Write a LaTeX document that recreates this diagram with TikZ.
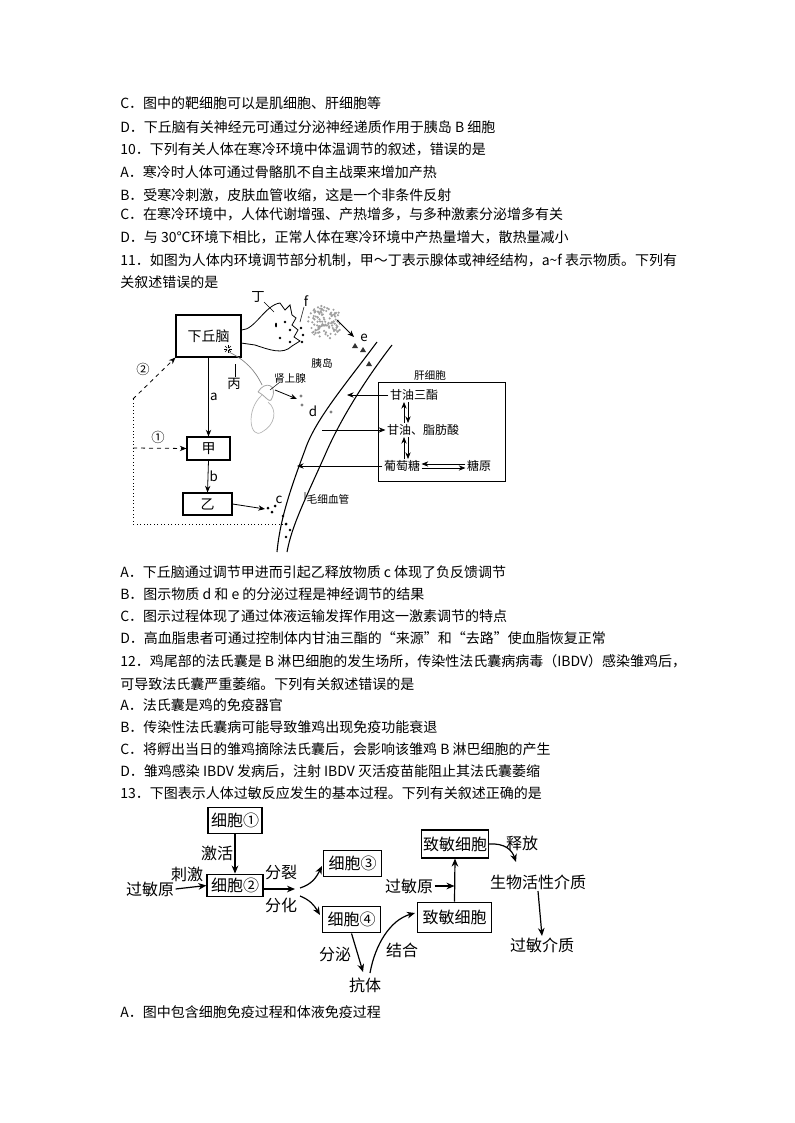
\documentclass[tikz,border=0pt]{standalone}
\usepackage{fontspec}
\setmainfont{Noto Sans CJK SC}
\usetikzlibrary{arrows.meta}
\begin{document}
\begin{tikzpicture}[x=0.75pt,y=-0.75pt,
  txt/.style={anchor=west,inner sep=0,font=\fontsize{10.5}{12}\selectfont},
  lbl/.style={inner sep=1pt,font=\fontsize{10}{12}\selectfont},
  big/.style={inner sep=1pt,font=\fontsize{12}{14}\selectfont},
  bx/.style={draw,line width=0.8pt,inner sep=0},
  arr/.style={-{Stealth[length=5pt,width=4pt]},line width=0.6pt},
  arrb/.style={-{Stealth[length=6pt,width=5pt]},line width=0.9pt}]
\useasboundingbox (0,0) rectangle (794,1123);
\fill[white] (0,0) rectangle (794,1123);
% text lines
\foreach \y/\t in {103/{C．图中的靶细胞可以是肌细胞、肝细胞等},
127/{D．下丘脑有关神经元可通过分泌神经递质作用于胰岛 B 细胞},
149/{10．下列有关人体在寒冷环境中体温调节的叙述，错误的是},
172/{A．寒冷时人体可通过骨骼肌不自主战栗来增加产热},
195/{B．受寒冷刺激，皮肤血管收缩，这是一个非条件反射},
214/{C．在寒冷环境中，人体代谢增强、产热增多，与多种激素分泌增多有关},
237/{D．与 30℃环境下相比，正常人体在寒冷环境中产热量增大，散热量减小},
260/{11．如图为人体内环境调节部分机制，甲～丁表示腺体或神经结构，a\textasciitilde f 表示物质。下列有},
282/{关叙述错误的是},
572/{A．下丘脑通过调节甲进而引起乙释放物质 c 体现了负反馈调节},
594/{B．图示物质 d 和 e 的分泌过程是神经调节的结果},
616/{C．图示过程体现了通过体液运输发挥作用这一激素调节的特点},
638/{D．高血脂患者可通过控制体内甘油三酯的“来源”和“去路”使血脂恢复正常},
661/{12．鸡尾部的法氏囊是 B 淋巴细胞的发生场所，传染性法氏囊病病毒（IBDV）感染雏鸡后，},
684/{可导致法氏囊严重萎缩。下列有关叙述错误的是},
705/{A．法氏囊是鸡的免疫器官},
727/{B．传染性法氏囊病可能导致雏鸡出现免疫功能衰退},
749/{C．将孵出当日的雏鸡摘除法氏囊后，会影响该雏鸡 B 淋巴细胞的产生},
771/{D．雏鸡感染 IBDV 发病后，注射 IBDV 灭活疫苗能阻止其法氏囊萎缩},
793/{13．下图表示人体过敏反应发生的基本过程。下列有关叙述正确的是},
1012/{A．图中包含细胞免疫过程和体液免疫过程}}
  \node[txt] at (120,\y) {\t};

% ---------- diagram 1 ----------
\node[bx,minimum width=65pt*0.75,minimum height=42pt*0.75,font=\fontsize{10.5}{12}\selectfont] (xq) at (208.5,336) {下丘脑};
\node[bx,minimum width=43pt*0.75,minimum height=23pt*0.75,font=\fontsize{10.5}{12}\selectfont] (jia) at (208.5,448.5) {甲};
\node[bx,minimum width=49pt*0.75,minimum height=22pt*0.75,font=\fontsize{10.5}{12}\selectfont] (yi) at (207.5,504) {乙};
\draw[arr] (xq.south) -- node[lbl,right]{a} (jia.north);
\draw[arr] (jia.south) -- node[lbl,right]{b} (yi.north);
\coordinate (c0) at (265,509);
\draw[arr] (yi.east) -- (c0);
\fill (268,508) circle(1.5) (272,512) circle(1.5) (275,506) circle(1.5);
\node[lbl] at (279,500) {c};
\fill (283,516) circle(1.4) (286,524) circle(1.5) (290,530) circle(1.4) (286,537) circle(1.4);
% feedback
\coordinate (fb1) at (283,524);
\coordinate (fb2) at (133,524);
\coordinate (fb3) at (133,399);
\coordinate (fb4) at (133,448);
\draw[dotted,line width=0.6pt] (fb1) -- (fb2) -- (fb3);
\draw[dashed,arr] (fb3) -- (xq.south west);
\draw[dashed,arr] (fb4) -- (jia.west);
\node[lbl] at (143,369) {②};
\node[lbl] at (158,437) {①};
% capillary
\draw[line width=0.8pt] (377,342) .. controls (345,385) and (315,420) .. (305,450) .. controls (290,490) and (280,520) .. (277,552);
\draw[line width=0.8pt] (392,345) .. controls (365,380) and (340,420) .. (325,455) .. controls (305,500) and (292,525) .. (287,552);
\node[lbl,font=\fontsize{8}{10}\selectfont] (mx) at (328,499) {毛细血管};
\draw[line width=0.5pt] (mx.west) -- (305,492);
% neuron ding
\draw[line width=0.6pt] (xq.east |- 0,330) .. controls (255,330) and (265,305) .. (280,303) -- (285,310) -- (290,305) -- (292,315) -- (296,318) -- (292,325) -- (298,330) -- (294,337) -- (300,341) -- (292,346) .. controls (283,355) and (270,350) .. (255,345) -- (241,343);
\fill (276,325) ellipse (1 and 2.5) (285,322) circle(1.4) (290,330) circle(1.4) (280,338) circle(1.4) (290,342) circle(1.4);
\node[lbl] (ding) at (258,297) {丁};
\draw[line width=0.4pt] (264,302) -- (274,312);
\node[lbl] (fl) at (306,301) {f};
\draw[line width=0.4pt] (304,307) -- (300,322);
\fill (301,328) circle(1.3) (303,335) circle(1.3) (302,342) circle(1.3);
% pancreatic islet
\foreach \i in {1,...,110}{ \pgfmathsetmacro\r{17*sqrt(rnd)} \pgfmathsetmacro\a{360*rnd}
  \fill[gray!75] ({325+\r*cos(\a)},{322+\r*sin(\a)}) circle(1.2); }
\node[lbl,font=\fontsize{8}{10}\selectfont] at (322,363) {胰岛};
\draw[arr] (337,320) -- (354,337);
\node[lbl] at (364,338) {e};
\foreach \p in {(355,346),(363,350),(369,364)} \fill[gray!40!black] \p ++(0,-3) -- ++(3,5) -- ++(-6,0) -- cycle;
% star bing
\coordinate (star) at (228,349);
\foreach \a in {0,45,...,315} \draw[line width=0.4pt] (star) ++(\a:1.2) -- ++(\a:3);
\node[lbl] at (234,384) {丙};
\draw[line width=0.4pt] (235,377) -- (235,364);
\draw[gray,line width=0.5pt] (229,352) .. controls (245,360) and (255,370) .. (262,385);
% adrenal / kidney
\draw[gray!70,line width=0.6pt] (258,392) .. controls (265,380) and (278,385) .. (272,398) .. controls (270,405) and (265,395) .. (258,392);
\draw[gray!60,line width=0.5pt] (262,395) .. controls (245,410) and (250,440) .. (262,432) .. controls (275,425) and (278,410) .. (268,402);
\node[lbl,font=\fontsize{8}{10}\selectfont] at (290,378) {肾上腺};
\draw[line width=0.4pt] (280,382) -- (270,390);
\draw[arr] (275,390) -- (297,399);
\fill[gray] (301,396) circle(1.6) (302,405) circle(1.6) (331,412) circle(1.6);
\node[lbl] at (313,411) {d};
% liver cell
\node[lbl,font=\fontsize{8}{10}\selectfont] at (430,375) {肝细胞};
\draw[line width=0.6pt] (378,382) rectangle (505,481);
\node[lbl,font=\fontsize{9}{11}\selectfont] (tg) at (414,395) {甘油三酯};
\node[lbl,font=\fontsize{9}{11}\selectfont] (gf) at (423,430) {甘油、脂肪酸};
\node[lbl,font=\fontsize{9}{11}\selectfont] (pt) at (402,466) {葡萄糖};
\node[lbl,font=\fontsize{9}{11}\selectfont] (ty) at (479,466) {糖原};
\coordinate (cp1) at (347,395); \coordinate (cp2) at (322,430); \coordinate (cp3) at (297,466);
\draw[arr] (tg.west) -- (cp1);
\draw[arr] (cp2) -- (gf.west);
\draw[arr] (pt.west) -- (cp3);
\draw[arr] (404,423) -- (404,402);
\draw[arr] (408,402) -- (408,423);
\draw[arr] (404,459) -- (404,437);
\draw[arr] (408,437) -- (408,459);
\draw[arr] ([yshift=-1.5pt]pt.east) -- ([yshift=-1.5pt]ty.west);
\draw[arr] ([yshift=1.5pt]ty.west) -- ([yshift=1.5pt]pt.east);

% ---------- diagram 2 ----------
\tikzset{cb/.style={draw,line width=0.9pt,inner sep=0,font=\fontsize{12}{14}\selectfont}}
\node[cb,minimum width=40.5pt,minimum height=19pt] (c1) at (235,820.5) {细胞①};
\node[cb,minimum width=42pt,minimum height=17pt] (c2) at (235,885.5) {细胞②};
\node[cb,minimum width=43pt,minimum height=20pt] (c3) at (352.5,863.5) {细胞③};
\node[cb,minimum width=43pt,minimum height=20pt] (c4) at (351.5,919.5) {细胞④};
\node[cb,minimum width=56pt,minimum height=23pt] (z1) at (454.5,917.5) {致敏细胞};
\node[cb,minimum width=50pt,minimum height=21pt] (z2) at (455,844) {致敏细胞};
\node[big] (g1) at (150,889) {过敏原};
\node[big] at (187,874) {刺激};
\node[big] at (217,853) {激活};
\node[big] at (281,872) {分裂};
\node[big] at (281,905) {分化};
\node[big] (g2) at (409,886) {过敏原};
\node[big] at (522,843) {释放};
\node[big] (sw) at (538,882) {生物活性介质};
\node[big] (gm) at (542,945) {过敏介质};
\node[big] at (335,954) {分泌};
\node[big] (kt) at (365,985) {抗体};
\node[big] at (402,950) {结合};
\draw[arrb] (g1.east) -- (c2.west);
\draw[arrb] (c1.south) -- (c2.north);
\coordinate (fx) at (295,889);
\draw[arrb] (c2.east |- fx) -- (fx);
\draw[arrb] (300,888) .. controls (312,884) and (316,878) .. (322,866);
\draw[arrb] (300,896) .. controls (310,900) and (314,905) .. (320,915);
\draw[arrb] (c4.south) .. controls (355,945) and (358,955) .. (363,972);
\draw[arrb] (370,973) .. controls (375,945) and (390,920) .. (415,913);
\draw[arrb] (g2.east) -- (z1.north |- g2.east);
\draw[arrb] (z1.north) -- (z2.south);
\draw[arrb] (z2.east) .. controls (505,843) and (512,850) .. (516,862);
\draw[arrb] (sw.south) -- (gm.north);
\end{tikzpicture}
\end{document}
